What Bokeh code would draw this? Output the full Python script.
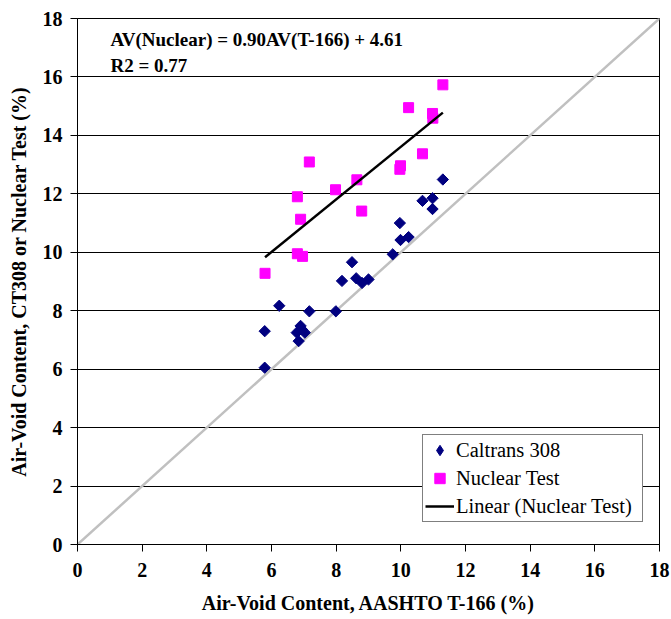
import math
from bokeh.plotting import figure
from bokeh.models import (ColumnDataSource, FixedTicker, Label, Legend, LegendItem)
from bokeh.embed import file_html
from bokeh.resources import INLINE

# ---- data ----
caltrans_x = [5.79, 5.79, 6.24, 6.84, 6.78, 6.90, 7.03, 6.94, 7.17, 7.99, 8.18, 8.49,
              8.62, 8.80, 9.00, 9.75, 9.99, 10.24, 9.97, 10.67, 10.98, 10.98, 11.30]
caltrans_y = [6.05, 7.30, 8.17, 6.96, 7.25, 7.48, 7.25, 7.36, 7.98, 7.98, 9.02, 9.66,
              9.11, 8.95, 9.07, 9.93, 10.42, 10.52, 11.00, 11.76, 11.85, 11.48, 12.49]
nuclear_x = [5.80, 6.80, 6.96, 6.90, 6.80, 7.17, 7.98, 8.64, 8.79, 9.99, 9.97, 10.24,
             10.67, 10.98, 10.99, 11.30]
nuclear_y = [9.28, 9.95, 9.86, 11.13, 11.90, 13.09, 12.14, 12.48, 11.41, 12.96, 12.84,
             14.95, 13.37, 14.75, 14.59, 15.73]
trend_slope = 0.90
trend_intercept = 4.61
r2 = 0.77
equality_line = [0, 18]
ticks = [0, 2, 4, 6, 8, 10, 12, 14, 16, 18]

FONT = "Liberation Serif"

p = figure(frame_width=582, frame_height=526, x_range=(0, 18), y_range=(0, 18),
           output_backend="svg", toolbar_location=None,
           min_border_left=77, min_border_right=12, min_border_top=18, min_border_bottom=75)
p.background_fill_color = "white"
p.border_fill_color = "white"
p.outline_line_color = "black"
p.outline_line_width = 1

# grid
p.xgrid.grid_line_color = None
p.ygrid.grid_line_color = "black"
p.ygrid.grid_line_width = 1
p.ygrid.ticker = FixedTicker(ticks=ticks)

for ax in (p.xaxis[0], p.yaxis[0]):
    ax.ticker = FixedTicker(ticks=ticks)
    ax.major_tick_out = 7
    ax.major_tick_in = 0
    ax.minor_tick_out = 0
    ax.minor_tick_in = 0
    ax.axis_line_color = "black"
    ax.major_tick_line_color = "black"
    ax.major_label_text_font = FONT
    ax.major_label_text_font_style = "bold"
    ax.major_label_text_font_size = "20px"
    ax.major_label_text_color = "black"
    ax.axis_label_text_font = FONT
    ax.axis_label_text_font_style = "bold"
    ax.axis_label_text_font_size = "20px"
    ax.axis_label_text_color = "black"

p.xaxis.axis_label = "Air-Void Content, AASHTO T-166 (%)"
p.yaxis.axis_label = "Air-Void Content, CT308 or Nuclear Test (%)"
p.xaxis.major_label_standoff = 11
p.yaxis.major_label_standoff = 8
p.xaxis.axis_label_standoff = 12
p.yaxis.axis_label_standoff = 10

# 1:1 line
p.line(equality_line, equality_line, line_color="#C0C0C0", line_width=2.5)

# data
src_c = ColumnDataSource(dict(x=caltrans_x, y=caltrans_y))
src_n = ColumnDataSource(dict(x=nuclear_x, y=nuclear_y))
# diamond glyph used for the legend entry (drawn small, hidden beneath the points)
rc_leg = p.scatter("x", "y", source=src_c, marker="diamond", size=6,
                   fill_color="#000080", line_color="#000080")
rc = p.scatter("x", "y", source=src_c, marker="square", angle=math.pi / 4, size=8,
               fill_color="#000080", line_color="#000080")
rn = p.scatter("x", "y", source=src_n, marker="square", size=10,
               fill_color="#FF00FF", line_color="#FF00FF")

tx = [min(nuclear_x), max(nuclear_x)]
ty = [trend_slope * v + trend_intercept for v in tx]
rt = p.line(tx, ty, line_color="black", line_width=2.5)

# annotation
p.add_layout(Label(x=1.02, y=17.27, text="AV(Nuclear) = %.2fAV(T-166) + %.2f" % (trend_slope, trend_intercept),
                   text_font=FONT, text_font_style="bold", text_font_size="19px",
                   text_color="black", text_baseline="alphabetic"))
p.add_layout(Label(x=1.02, y=16.38, text="R2 = %.2f" % r2,
                   text_font=FONT, text_font_style="bold", text_font_size="19px",
                   text_color="black", text_baseline="alphabetic"))

legend = Legend(items=[LegendItem(label="Caltrans 308", renderers=[rc_leg]),
                       LegendItem(label="Nuclear Test", renderers=[rn]),
                       LegendItem(label="Linear (Nuclear Test)", renderers=[rt])],
                location=(345, 22))
legend.label_text_font = FONT
legend.label_text_font_size = "20.5px"
legend.label_text_color = "black"
legend.border_line_color = "black"
legend.border_line_width = 1
legend.background_fill_color = "white"
legend.background_fill_alpha = 1
legend.glyph_width = 29
legend.glyph_height = 26
legend.label_height = 26
legend.label_width = 184
legend.label_standoff = 2
legend.spacing = 2
legend.padding = 2
legend.margin = 0
p.add_layout(legend)

open("out.html", "w").write(file_html(p, INLINE))
